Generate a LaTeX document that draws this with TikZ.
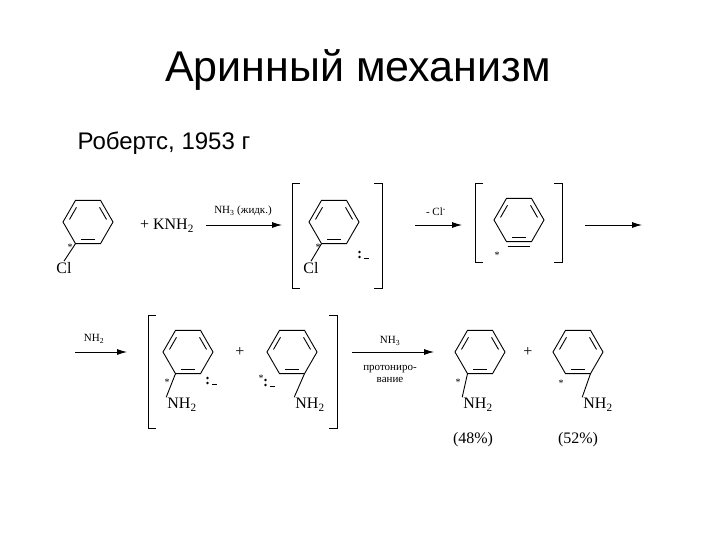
\documentclass[tikz,border=0pt]{standalone}
\usepackage{fontspec}
\setmainfont{Liberation Serif}
\newfontfamily\sansf{Liberation Sans}
\usetikzlibrary{calc,arrows.meta}
\newcommand\benz[3]{%
 \coordinate (#1) at (#2,#3);
 \foreach \a [count=\i from 0] in {0,60,...,300}{
   \coordinate (#1-\i) at ($(#1)+(\a:25pt)$);
   \coordinate (#1-\i i) at ($(#1)+(\a:20pt)$);
   \coordinate (#1-\i o) at ($(#1)+(\a:30pt)$);}
 \draw[bond] (#1-0)--(#1-1)--(#1-2)--(#1-3)--(#1-4)--(#1-5)--cycle;
 \draw[bond] ($(#1-0i)!.15!(#1-1i)$)--($(#1-0i)!.85!(#1-1i)$);
 \draw[bond] ($(#1-2i)!.15!(#1-3i)$)--($(#1-2i)!.85!(#1-3i)$);}
\newcommand\dbl[3]{\draw[bond] ($(#1-#2i)!.15!(#1-#3i)$)--($(#1-#2i)!.85!(#1-#3i)$);}
\newcommand\anion[1]{%
 \fill (#1) ++(-2.5pt,2pt) circle (1.3pt) ++(0,-5pt) circle (1.3pt);
 \draw[bond] (#1) ++(2pt,-4pt) -- ++(5pt,0);}
\begin{document}
\begin{tikzpicture}[x=1pt,y=1pt,
  bond/.style={line width=0.9pt},
  rx/.style={line width=0.9pt,-{Latex[length=10pt,width=6pt]}},
  brk/.style={line width=0.9pt},
  ch/.style={font=\fontsize{16}{18}\selectfont,inner sep=1pt},
  sm/.style={font=\fontsize{11}{12}\selectfont,inner sep=1pt},
  st/.style={font=\fontsize{10}{10}\selectfont,inner sep=0pt}]
\useasboundingbox (0,-540) rectangle (720,0);
\node[font=\sansf\fontsize{43}{48}\selectfont] (title) at (358,-70) {Аринный механизм};
\node[font=\sansf\fontsize{24}{28}\selectfont,anchor=west] (auth) at (74,-143) {Робертс, 1953 г};
% row 1
\benz{r1}{88}{-222}\dbl{r1}{4}{5}
\node[ch] (cl1) at (64,-268) {Cl};
\draw[bond] (r1-4) -- (cl1.north);
\node[st] (s1) at (70,-247) {*};
\node[ch] (knh2) at (167,-226) {+ KNH\textsubscript{2}};
\coordinate (a1s) at (206,-225); \coordinate (a1e) at (282,-225);
\draw[rx] (a1s) -- (a1e);
\node[sm] (a1l) at (243,-211) {NH\textsubscript{3} (жидк.)};
\draw[brk] (300,-183)--(292,-183)--(292,-288)--(300,-288);
\draw[brk] (374,-183)--(382,-183)--(382,-288)--(374,-288);
\benz{r2}{334}{-222}\dbl{r2}{4}{5}
\node[ch] (cl2) at (311,-268) {Cl};
\draw[bond] (r2-4) -- (cl2.north);
\node[st] (s2) at (318,-247) {*};
\coordinate (an2) at (362,-254); \anion{an2}
\coordinate (a2s) at (415,-225); \coordinate (a2e) at (462,-225);
\draw[rx] (a2s) -- (a2e);
\node[sm] (a2l) at (436,-212) {- Cl\textsuperscript{-}};
\draw[brk] (483,-183)--(475,-183)--(475,-262)--(483,-262);
\draw[brk] (554,-183)--(562,-183)--(562,-262)--(554,-262);
\benz{r3}{519}{-220}\dbl{r3}{4}{5}
\draw[bond] ($(r3-4o)!.12!(r3-5o)$)--($(r3-4o)!.88!(r3-5o)$);
\node[st] (s3) at (497,-255) {*};
\coordinate (a3s) at (585,-225); \coordinate (a3e) at (642,-225);
\draw[rx] (a3s) -- (a3e);
% row 2
\coordinate (a4s) at (75,-352); \coordinate (a4e) at (127,-352);
\draw[rx] (a4s) -- (a4e);
\node[sm] (a4l) at (94,-339) {NH\textsubscript{2}};
\draw[brk] (156,-315)--(148,-315)--(148,-428)--(156,-428);
\draw[brk] (329,-315)--(337,-315)--(337,-428)--(329,-428);
\benz{r4}{188}{-352}\dbl{r4}{4}{5}
\node[ch] (n4) at (182,-405) {NH\textsubscript{2}};
\draw[bond] (r4-4) -- (n4.north west);
\node[st] (s4) at (167,-382) {*};
\coordinate (an4) at (210,-380); \anion{an4}
\node[ch] (p1) at (240,-352) {+};
\benz{r5}{292}{-352}\dbl{r5}{4}{5}
\node[ch] (n5) at (310,-405) {NH\textsubscript{2}};
\draw[bond] (r5-5) -- (n5.north west);
\node[st] (s5) at (261,-378) {*};
\coordinate (an5) at (268,-382); \anion{an5}
\coordinate (a5s) at (352,-352); \coordinate (a5e) at (434,-352);
\draw[rx] (a5s) -- (a5e);
\node[sm] (a5l) at (390,-341) {NH\textsubscript{3}};
\node[sm,align=center] (a5b) at (390,-374) {протониро-\\вание};
\benz{r6}{480}{-352}\dbl{r6}{4}{5}
\node[ch] (n6) at (478,-405) {NH\textsubscript{2}};
\draw[bond] (r6-4) -- (n6.north west);
\node[st] (s6) at (458,-382) {*};
\node[ch] (pc1) at (473,-440) {(48\%)};
\node[ch] (p2) at (528,-352) {+};
\benz{r7}{578}{-352}\dbl{r7}{4}{5}
\node[ch] (n7) at (598,-405) {NH\textsubscript{2}};
\draw[bond] (r7-5) -- (n7.north west);
\node[st] (s7) at (561,-383) {*};
\node[ch] (pc2) at (578,-440) {(52\%)};
\end{tikzpicture}
\end{document}
